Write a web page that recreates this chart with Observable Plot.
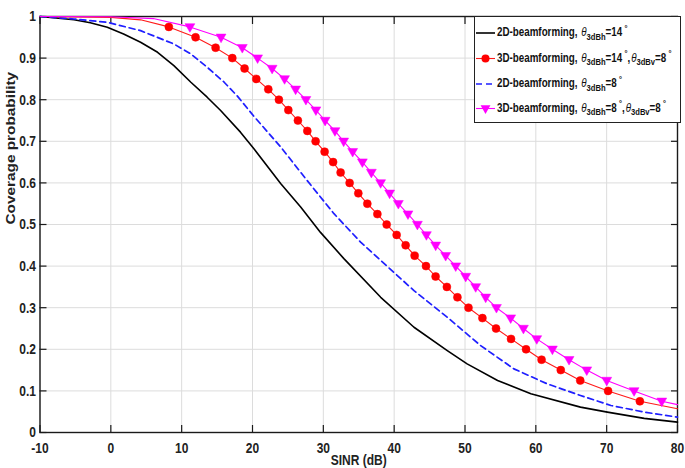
<!DOCTYPE html>
<html>
<head>
<meta charset="utf-8">
<script src="https://cdn.jsdelivr.net/npm/d3@7"></script>
<script src="https://cdn.jsdelivr.net/npm/@observablehq/plot@0.6"></script>
<style>
  html, body { margin: 0; padding: 0; background: #fff; }
  #chart { width: 685px; height: 468px; }
</style>
</head>
<body>
<div id="chart"></div>
<script>
// Coverage probability P(SINR > T) against the threshold T (dB).

// 2D beamforming, 14 deg horizontal beamwidth
const bf2d14X = [-10, -5.2, -2.9, -0.5, 1.8, 4.2, 6.6, 8.9, 11.3, 13.6, 15.5, 18.3, 20.2, 24.0, 26.8, 29.6, 32.9, 38.1, 42.8, 47.5, 50.3, 54.6, 59.3, 66.3, 70.1, 75.3, 80];
const bf2d14P = [1.0, 0.992, 0.985, 0.974, 0.958, 0.938, 0.914, 0.882, 0.842, 0.806, 0.774, 0.722, 0.682, 0.598, 0.542, 0.481, 0.418, 0.325, 0.253, 0.197, 0.165, 0.125, 0.093, 0.061, 0.049, 0.034, 0.025];

// 2D beamforming, 8 deg horizontal beamwidth
const bf2d8X = [-10, -5.2, -0.5, 4.2, 8.9, 11.3, 13.6, 16.0, 17.9, 20.2, 24.0, 27.7, 31.5, 35.3, 38.6, 42.8, 47.5, 52.2, 56.9, 61.6, 66.3, 70.6, 75.3, 80];
const bf2d8P = [1.0, 0.994, 0.986, 0.966, 0.934, 0.910, 0.878, 0.842, 0.808, 0.760, 0.686, 0.606, 0.526, 0.457, 0.406, 0.341, 0.277, 0.209, 0.153, 0.117, 0.089, 0.065, 0.049, 0.037];

// Probability levels carrying a marker on the 3D curves
const markerP = [0.975, 0.95, 0.925, 0.9, 0.875, 0.85, 0.825, 0.8, 0.775, 0.75, 0.725, 0.7, 0.675, 0.65, 0.625, 0.6, 0.575, 0.55, 0.525, 0.5, 0.475, 0.45, 0.425, 0.4, 0.375, 0.35, 0.325, 0.3, 0.275, 0.25, 0.225, 0.2, 0.175, 0.15, 0.125, 0.1, 0.075];

// 3D beamforming, 14 deg horizontal / 8 deg vertical
const bf3d14X = [8.19, 11.96, 14.79, 17.15, 18.88, 20.54, 22.23, 23.73, 25.06, 26.41, 27.74, 28.91, 30.18, 31.38, 32.44, 33.71, 34.94, 36.21, 37.63, 38.94, 40.35, 41.62, 42.89, 44.49, 45.85, 47.44, 48.93, 50.49, 52.46, 54.38, 56.50, 58.62, 60.81, 63.52, 66.27, 70.20, 74.69];
const bf3d14HeadX = [-10, 0, 4.2];
const bf3d14HeadP = [1.0, 0.998, 0.992];
const bf3d14TailX = [80];
const bf3d14TailP = [0.057];

// 3D beamforming, 8 deg horizontal / 8 deg vertical
const bf3d8X = [11.16, 15.56, 18.56, 20.72, 22.77, 24.53, 26.09, 27.54, 28.95, 30.25, 31.64, 32.87, 34.14, 35.51, 36.78, 38.09, 39.36, 40.59, 41.95, 43.28, 44.55, 45.86, 47.27, 48.69, 50.10, 51.51, 52.92, 54.44, 56.45, 58.25, 60.13, 62.34, 64.69, 67.19, 70.01, 73.87, 77.78];
const bf3d8HeadX = [-10, 0, 6];
const bf3d8HeadP = [1.0, 0.9995, 0.995];
const bf3d8TailX = [80];
const bf3d8TailP = [0.067];

const xTicks = [-10, 0, 10, 20, 30, 40, 50, 60, 70, 80];
const yTicks = [0, 0.1, 0.2, 0.3, 0.4, 0.5, 0.6, 0.7, 0.8, 0.9, 1];
const xLabel = "SINR (dB)";
const yLabel = "Coverage probability";

const rows = (xs, ps) => xs.map((x, i) => ({x, p: ps[i]}));
const black = rows(bf2d14X, bf2d14P);
const blue = rows(bf2d8X, bf2d8P);
const redDots = rows(bf3d14X, markerP);
const redLine = [...rows(bf3d14HeadX, bf3d14HeadP), ...redDots, ...rows(bf3d14TailX, bf3d14TailP)];
const magDots = rows(bf3d8X, markerP);
const magLine = [...rows(bf3d8HeadX, bf3d8HeadP), ...magDots, ...rows(bf3d8TailX, bf3d8TailP)];

// downward-pointing triangle marker
const triangleDown = {
  draw(context, size) {
    const s = Math.sqrt(size / Math.PI);
    context.moveTo(-1.15 * s, -0.75 * s);
    context.lineTo(1.15 * s, -0.75 * s);
    context.lineTo(0, 1.25 * s);
    context.closePath();
  }
};

const fmt = d => String(d);
const font = "'Liberation Sans', Arial, Helvetica, sans-serif";

const chart = Plot.plot({
  width: 685,
  height: 468,
  marginLeft: 39.5,
  marginRight: 8,
  marginTop: 16,
  marginBottom: 36,
  style: {fontFamily: font, fontSize: "12px", fontWeight: "bold", background: "#fff", color: "#111"},
  x: {domain: [-10, 80]},
  y: {domain: [0, 1]},
  marks: [
    Plot.gridX(xTicks, {stroke: "#dcdcdc", strokeOpacity: 1, strokeWidth: 1}),
    Plot.gridY(yTicks, {stroke: "#dcdcdc", strokeOpacity: 1, strokeWidth: 1}),
    Plot.frame({stroke: "#1a1a1a", strokeWidth: 1.4}),
    Plot.axisX(xTicks, {anchor: "bottom", tickSize: -7, fill: "none", stroke: "#1a1a1a", strokeWidth: 1.2, label: null}),
    Plot.axisX(xTicks, {anchor: "top", tickSize: -7, fill: "none", stroke: "#1a1a1a", strokeWidth: 1.2, label: null}),
    Plot.axisY(yTicks, {anchor: "left", tickSize: -7, fill: "none", stroke: "#1a1a1a", strokeWidth: 1.2, label: null}),
    Plot.axisY(yTicks, {anchor: "right", tickSize: -7, fill: "none", stroke: "#1a1a1a", strokeWidth: 1.2, label: null}),
    Plot.axisX(xTicks, {anchor: "bottom", tickSize: 0, tickPadding: 10, tickFormat: fmt, fill: "#222", label: null}),
    Plot.axisY(yTicks, {anchor: "left", tickSize: 0, tickPadding: 4, tickFormat: fmt, fill: "#222", label: null}),
    Plot.text([xLabel], {frameAnchor: "bottom", lineAnchor: "top", dy: 22, fill: "#222"}),
    Plot.text([yLabel], {frameAnchor: "left", rotate: -90, dx: -28.5, fill: "#222"}),
    Plot.line(black, {x: "x", y: "p", stroke: "#000", strokeWidth: 1.6}),
    Plot.line(blue, {x: "x", y: "p", stroke: "#1f1fff", strokeWidth: 1.7, strokeDasharray: "6,4"}),
    Plot.line(redLine, {x: "x", y: "p", stroke: "#ff1a1a", strokeWidth: 1.1}),
    Plot.dot(redDots, {x: "x", y: "p", r: 4, fill: "#ff0000", stroke: "#ff0000", strokeWidth: 0.5}),
    Plot.line(magLine, {x: "x", y: "p", stroke: "#ff00ff", strokeWidth: 1.1}),
    Plot.dot(magDots, {x: "x", y: "p", r: 4.3, symbol: triangleDown, fill: "#ff00ff", stroke: "#ff00ff", strokeWidth: 0.5})
  ]
});

// legend box in the upper right corner
const svg = d3.select(chart);
const legendItems = [
  {stroke: "#000", width: 1.6, dash: null, marker: null,
   parts: [["2D-beamforming, "], ["θ", "i"], ["3dBh", "sub"], ["=14"], ["°", "sup"]]},
  {stroke: "#ff1a1a", width: 1.1, dash: null, marker: "circle", fill: "#ff0000",
   parts: [["3D-beamforming, "], ["θ", "i"], ["3dBh", "sub"], ["=14"], ["°", "sup"], [","], ["θ", "i"], ["3dBv", "sub"], ["=8"], ["°", "sup"]]},
  {stroke: "#1f1fff", width: 1.7, dash: "6,4", marker: null,
   parts: [["2D-beamforming, "], ["θ", "i"], ["3dBh", "sub"], ["=8"], ["°", "sup"]]},
  {stroke: "#ff00ff", width: 1.1, dash: null, marker: "triangle", fill: "#ff00ff",
   parts: [["3D-beamforming, "], ["θ", "i"], ["3dBh", "sub"], ["=8"], ["°", "sup"], [","], ["θ", "i"], ["3dBv", "sub"], ["=8"], ["°", "sup"]]}
];
const lg = svg.append("g").attr("class", "legend").attr("text-anchor", "start");
lg.append("rect").attr("x", 474.5).attr("y", 16.5).attr("width", 206).attr("height", 106)
  .attr("fill", "#fff").attr("stroke", "#222").attr("stroke-width", 1);
const rowY = [33, 58.5, 84, 108.5];
legendItems.forEach((item, k) => {
  const y = rowY[k];
  lg.append("line").attr("x1", 476).attr("x2", 495).attr("y1", y).attr("y2", y)
    .attr("stroke", item.stroke).attr("stroke-width", item.width)
    .attr("stroke-dasharray", item.dash);
  if (item.marker === "circle") {
    lg.append("circle").attr("cx", 485.5).attr("cy", y).attr("r", 4).attr("fill", item.fill);
  } else if (item.marker === "triangle") {
    lg.append("path").attr("transform", `translate(485.5,${y})`)
      .attr("d", d3.symbol(triangleDown, Math.PI * 4.3 * 4.3)()).attr("fill", item.fill);
  }
  const t = lg.append("text").attr("text-anchor", "start").attr("transform", `translate(497,${y + 3.2})`)
    .attr("font-size", 9.8).attr("font-weight", "bold").attr("fill", "#111");
  let off = 0;
  for (const [s, kind] of item.parts) {
    const target = kind === "sub" ? 2.8 : kind === "sup" ? -4.4 : 0;
    const ts = t.append("tspan").text(s);
    if (target !== off) ts.attr("dy", target - off);
    off = target;
    if (kind === "sub" || kind === "sup") ts.attr("font-size", 7.6);
    if (kind === "sup") ts.attr("dx", 2.2);
    if (kind === "i") ts.attr("font-style", "italic").attr("font-weight", "normal").attr("dx", 1);
  }
});

// text in this figure is drawn slightly taller than wide
svg.selectAll("text").each(function () {
  let tr = this.getAttribute("transform");
  if (!tr) {
    const x = +this.getAttribute("x") || 0, y = +this.getAttribute("y") || 0;
    tr = `translate(${x},${y})`;
    this.setAttribute("x", 0);
    this.setAttribute("y", 0);
  }
  this.setAttribute("transform", tr + (/rotate/.test(tr) ? " scale(1.28,1)" : " scale(1,1.28)"));
});

document.getElementById("chart").appendChild(chart);
</script>
</body>
</html>
